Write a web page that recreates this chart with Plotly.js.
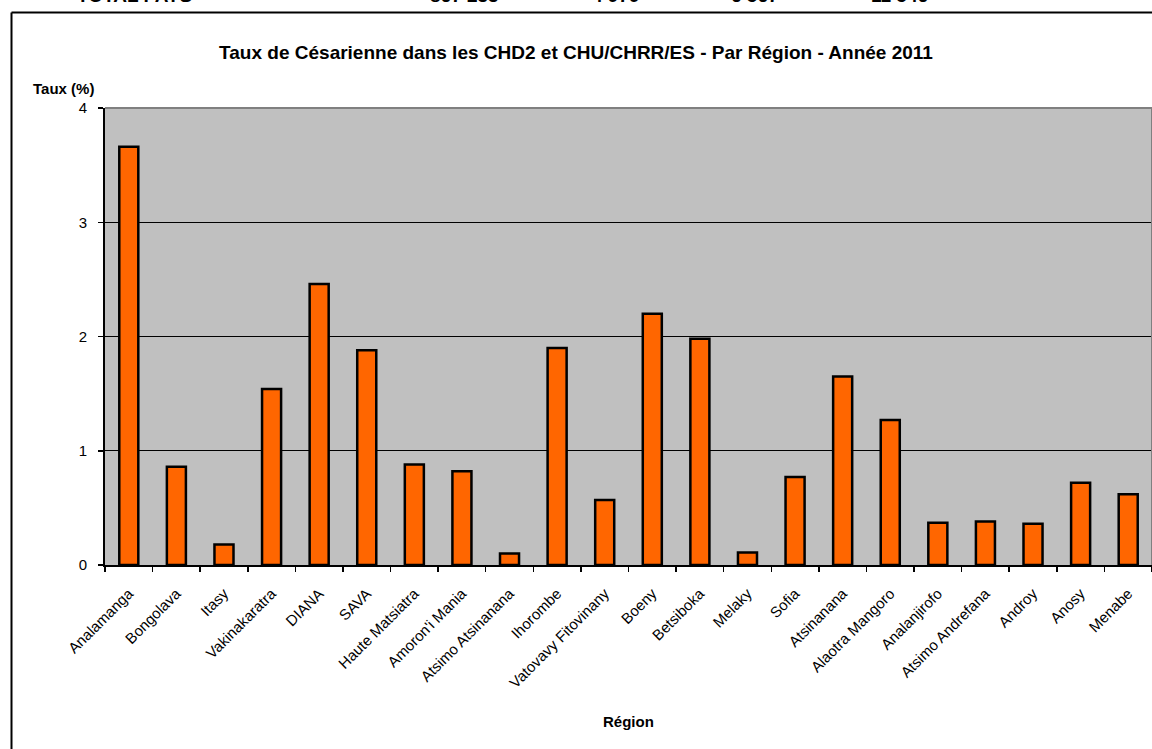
<!DOCTYPE html>
<html>
<head>
<meta charset="utf-8">
<script src="https://cdn.plot.ly/plotly-3.0.1.min.js"></script>
<style>html,body{margin:0;padding:0;background:#fff;}#chart{width:1152px;height:749px;}</style>
</head>
<body>
<div id="chart"></div>
<script>
const regions = ["Analamanga","Bongolava","Itasy","Vakinakaratra","DIANA","SAVA","Haute Matsiatra","Amoron'i Mania","Atsimo Atsinanana","Ihorombe","Vatovavy Fitovinany","Boeny","Betsiboka","Melaky","Sofia","Atsinanana","Alaotra Mangoro","Analanjirofo","Atsimo Andrefana","Androy","Anosy","Menabe"];
const taux = [3.66,0.86,0.18,1.54,2.46,1.88,0.88,0.82,0.10,1.90,0.57,2.20,1.98,0.11,0.77,1.65,1.27,0.37,0.38,0.36,0.72,0.62];
const yTicks = [0,1,2,3,4];
const headerTexts = ["TOTAL PAYS","867 233","4 979","6 567","11 546"];

const FONT = "Arial, 'Liberation Sans', sans-serif";
const W = 1152, H = 749, ML = 105, MR = 0, MT = 108, MB = 184;
const PW = W - ML - MR, PH = H - MT - MB;
const px = x => (x - ML) / PW;
const py = y => (H - MB - y) / PH;

const headerX = [75, 501, 642, 781, 930];
const headerAnchor = ["left","right","right","right","right"];
const annotations = headerTexts.map((t, i) => ({
  text: "<b>" + t + "</b>", xref: "paper", yref: "paper",
  x: px(headerX[i]), y: py(-4), xanchor: headerAnchor[i], yanchor: "middle",
  showarrow: false, font: {family: FONT, size: 19, color: "#000"}
}));
annotations.push({text: "<b>Taux (%)</b>", xref: "paper", yref: "paper", x: px(31), y: py(88),
  xanchor: "left", yanchor: "middle", showarrow: false, font: {family: FONT, size: 15, color: "#000"}});
annotations.push({text: "<b>Région</b>", xref: "paper", yref: "paper", x: px(628), y: py(721),
  xanchor: "center", yanchor: "middle", showarrow: false, font: {family: FONT, size: 15, color: "#000"}});

const shapes = [
  {type: "line", xref: "paper", yref: "paper", x0: px(11.5), x1: px(1160), y0: py(12.5), y1: py(12.5), line: {color: "#000", width: 2}},
  {type: "line", xref: "paper", yref: "paper", x0: px(11.5), x1: px(11.5), y0: py(12.5), y1: py(760), line: {color: "#000", width: 2}},
  {type: "line", xref: "paper", yref: "paper", x0: 0, x1: 1, y0: 1, y1: 1, line: {color: "#808080", width: 2}},
  {type: "line", xref: "paper", yref: "paper", x0: 1, x1: 1, y0: 0, y1: 1, line: {color: "#808080", width: 2}}
];

const trace = {
  type: "bar", x: regions, y: taux, width: 0.4,
  marker: {color: "#FF6600", line: {color: "#000", width: 2.5}},
  hoverinfo: "x+y"
};

const layout = {
  width: W, height: H,
  margin: {l: ML, r: MR, t: MT, b: MB, pad: 0},
  paper_bgcolor: "#fff", plot_bgcolor: "#C0C0C0",
  showlegend: false,
  font: {family: FONT, color: "#000"},
  title: {text: "<b>Taux de Césarienne dans les CHD2 et CHU/CHRR/ES - Par Région - Année 2011</b>",
    font: {family: FONT, size: 19, color: "#000"}, xref: "container", x: 0.5, xanchor: "center",
    yref: "container", y: 1 - 52/H, yanchor: "middle"},
  xaxis: {type: "category", tickangle: -45, ticks: "outside", tickson: "boundaries", ticklen: 5, tickwidth: 1.5,
    tickcolor: "#000", showline: true, linecolor: "#000", linewidth: 2, showgrid: false,
    tickfont: {family: FONT, size: 15, color: "#000"}, ticklabelstandoff: 12, automargin: false, fixedrange: true},
  yaxis: {range: [0, 4], tickvals: yTicks, ticktext: yTicks.map(String), ticks: "outside", ticklen: 5, tickwidth: 1.5,
    tickcolor: "#000", showline: true, linecolor: "#000", linewidth: 2, showgrid: true, gridcolor: "#000", gridwidth: 1,
    zeroline: false, tickfont: {family: FONT, size: 15, color: "#000"}, ticklabelstandoff: 8, automargin: false, fixedrange: true},
  annotations: annotations,
  shapes: shapes,
  bargap: 0.6
};

Plotly.newPlot("chart", [trace], layout, {displayModeBar: false, staticPlot: true});
</script>
</body>
</html>
